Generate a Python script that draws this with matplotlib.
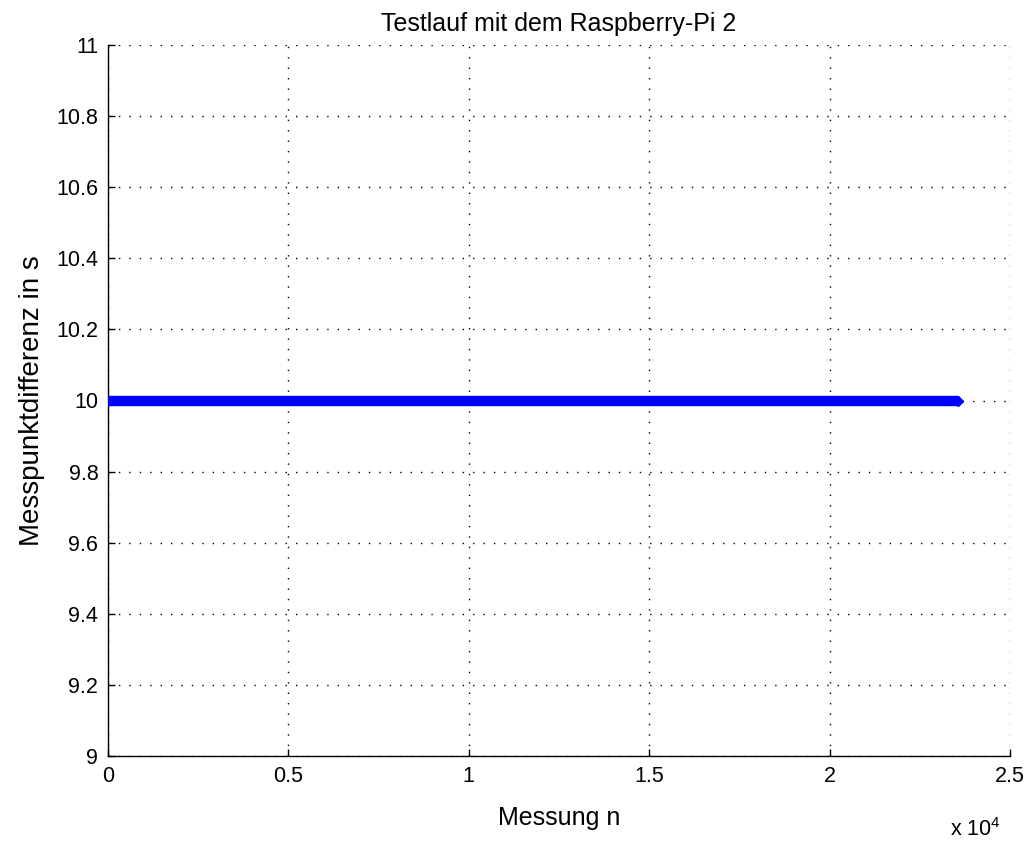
import numpy as np
import matplotlib
matplotlib.use("Agg")
import matplotlib.pyplot as plt

# Measurement run: time difference between consecutive samples
n_start = 0
n_end = 23560
diff_value = 10.0

x_ticks = [0, 5000, 10000, 15000, 20000, 25000]
x_tick_labels = ["0", "0.5", "1", "1.5", "2", "2.5"]
y_ticks = [9, 9.2, 9.4, 9.6, 9.8, 10, 10.2, 10.4, 10.6, 10.8, 11]
y_tick_labels = ["9", "9.2", "9.4", "9.6", "9.8", "10", "10.2", "10.4", "10.6", "10.8", "11"]

plt.rcParams["font.family"] = ["Liberation Sans", "DejaVu Sans"]
plt.rcParams["mathtext.fontset"] = "custom"
plt.rcParams["mathtext.rm"] = "Liberation Sans"

fig = plt.figure(figsize=(10.32, 8.43), dpi=100)
ax = fig.add_axes([108 / 1032, 1 - 756 / 843, 902 / 1032, 711 / 843])

ax.plot([n_start, n_end], [diff_value, diff_value], color="#0000ff",
        linewidth=7.5, solid_capstyle="butt", marker="D", markersize=5,
        markevery=[0, 1], zorder=3)

ax.set_xlim(0, 25000)
ax.set_ylim(9, 11)
ax.set_xticks(x_ticks)
ax.set_xticklabels(x_tick_labels)
ax.set_yticks(y_ticks)
ax.set_yticklabels(y_tick_labels)

ax.grid(True, color="black", linestyle=(0, (1, 6.5)), linewidth=1.0)
for side in ["top", "right"]:
    ax.spines[side].set_visible(False)
for side in ["left", "bottom"]:
    ax.spines[side].set_linewidth(1.0)
ax.tick_params(direction="in", length=5, width=1, labelsize=15.5, pad=7)

ax.set_title("Testlauf mit dem Raspberry-Pi 2", fontsize=18, pad=10)
ax.set_xlabel("Messung n", fontsize=18, labelpad=14)
ax.set_ylabel("Messpunktdifferenz in s", fontsize=20, labelpad=8)
fig.text(975 / 1032, 1 - 830 / 843, r"x 10$^{4}$", fontsize=15.5,
         ha="center", va="center")

fig.savefig("out.png", dpi=100)
